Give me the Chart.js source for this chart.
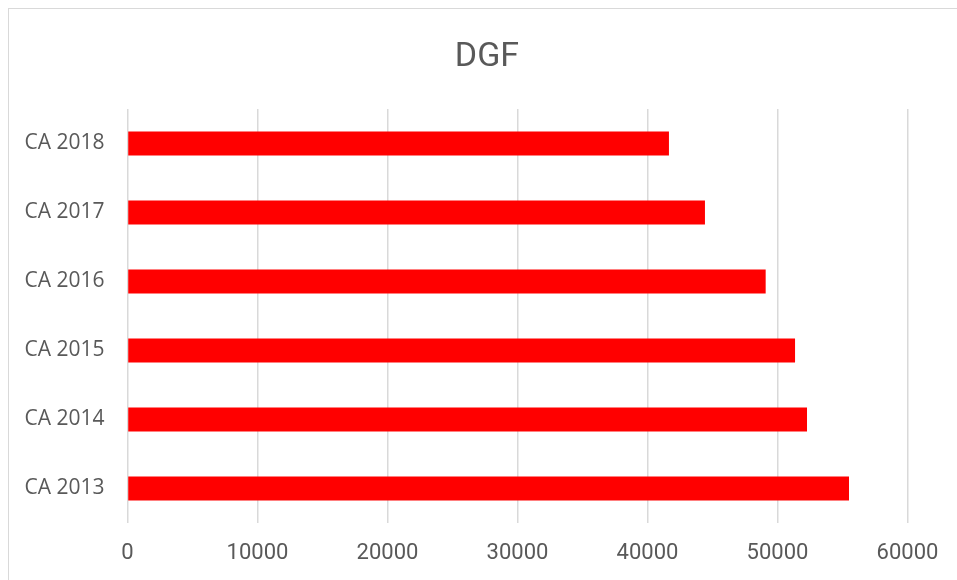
<!DOCTYPE html>
<html>
<head>
<meta charset="utf-8">
<script src="https://cdn.jsdelivr.net/npm/chart.js@4"></script>
<style>
  html, body { margin:0; padding:0; background:#fff; }
  #wrap { position:relative; width:957px; height:580px; overflow:hidden; }
  #frame { position:absolute; left:8px; top:8px; width:1000px; height:1000px; border:1px solid #d9d9d9; }
  #chart { position:absolute; left:0; top:0; }
</style>
</head>
<body>
<div id="wrap">
  <div id="frame"></div>
  <canvas id="chart" width="957" height="580"></canvas>
</div>
<script>
// categorias de arriba hacia abajo
const labels = ['CA 2018', 'CA 2017', 'CA 2016', 'CA 2015', 'CA 2014', 'CA 2013'];
const values = [41650, 44420, 49090, 51350, 52270, 55500];
const xTicks = [0, 10000, 20000, 30000, 40000, 50000, 60000];
const title = 'DGF';

const grey = '#595959';

// titulo centrado sobre el marco, no sobre el area del grafico
const titlePlugin = {
  id: 'titulo',
  afterDraw(chart) {
    const c = chart.ctx;
    c.save();
    c.font = '34px Roboto, sans-serif';
    c.fillStyle = grey;
    c.textAlign = 'center';
    c.textBaseline = 'middle';
    c.fillText(title, 487, 57);
    c.restore();
  }
};

new Chart(document.getElementById('chart'), {
  type: 'bar',
  data: {
    labels,
    datasets: [{ label: title, data: values, backgroundColor: '#ff0000', borderWidth: 0,
      categoryPercentage: 1, barPercentage: 0.35 }]
  },
  options: {
    indexAxis: 'y',
    responsive: false,
    animation: false,
    layout: { padding: { left: 0, right: 49.5, top: 109, bottom: 0 } },
    plugins: {
      legend: { display: false },
      tooltip: { enabled: false },
      title: { display: false }
    },
    scales: {
      x: {
        min: xTicks[0], max: xTicks[xTicks.length - 1],
        afterBuildTicks: s => { s.ticks = xTicks.map(v => ({ value: v })); },
        afterFit: s => { s.height = 57; s.paddingLeft = 0; s.paddingRight = 0; },
        grid: { color: '#d9d9d9', lineWidth: 1.5, drawTicks: false },
        border: { display: false },
        ticks: { color: grey, padding: 17, font: { family: 'Roboto, sans-serif', size: 22 },
          callback: v => String(v) }
      },
      y: {
        afterFit: s => { s.width = 127.5; s.paddingTop = 0; s.paddingBottom = 0; },
        grid: { display: false, drawTicks: false },
        border: { display: false },
        ticks: { color: grey, padding: 23, font: { family: '"Open Sans", sans-serif', size: 21 } }
      }
    }
  },
  plugins: [titlePlugin]
});
</script>
</body>
</html>
